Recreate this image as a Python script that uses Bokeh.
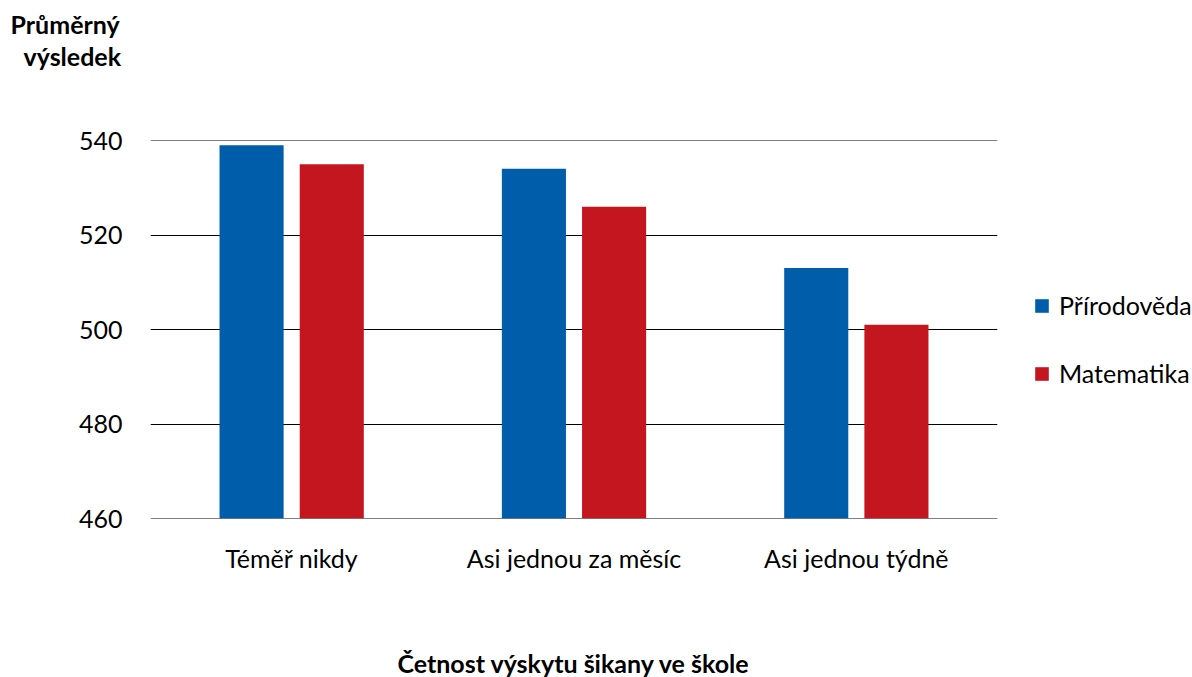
from bokeh.plotting import figure
from bokeh.models import Range1d, FactorRange, Legend, LegendItem, Title, ColumnDataSource
from bokeh.transform import dodge
from bokeh.embed import file_html
from bokeh.resources import INLINE

categories = ["Téměř nikdy", "Asi jednou za měsíc", "Asi jednou týdně"]
prirodoveda = [539, 534, 513]
matematika = [535, 526, 501]
series_names = ["Přírodověda", "Matematika"]
y_ticks = [460, 480, 500, 520, 540]
y_title = ["Průměrný", "výsledek"]
x_title = "Četnost výskytu šikany ve škole"

FONT = "Lato"
FS = "25px"
BLUE = "#005DAA"
RED = "#C4161F"

src = ColumnDataSource(dict(cat=categories, p=prirodoveda, m=matematika))

p = figure(x_range=FactorRange(*categories), y_range=Range1d(460, 540),
           frame_width=847, frame_height=378, title=None,
           min_border_left=150, min_border_top=140, min_border_right=187, min_border_bottom=159,
           output_backend="svg", toolbar_location=None)
p.outline_line_color = None

p.hspan(y=y_ticks, line_color="black", line_width=1)

r1 = p.vbar(x=dodge("cat", -0.142, range=p.x_range), top="p", bottom=460, width=0.227,
            source=src, fill_color=BLUE, line_color=None)
r2 = p.vbar(x=dodge("cat", 0.142, range=p.x_range), top="m", bottom=460, width=0.227,
            source=src, fill_color=RED, line_color=None)

p.xgrid.grid_line_color = None
p.ygrid.grid_line_color = None
p.yaxis.ticker = y_ticks
p.yaxis.axis_line_color = None
p.yaxis.major_tick_line_color = None
p.yaxis.minor_tick_line_color = None
p.yaxis.major_label_standoff = 22
p.yaxis.major_label_text_font = FONT
p.yaxis.major_label_text_font_size = FS
p.yaxis.major_label_text_color = "black"

p.xaxis.axis_line_color = None
p.xaxis.major_tick_line_color = None
p.xaxis.major_label_standoff = 18
p.xaxis.major_label_text_font = FONT
p.xaxis.major_label_text_font_size = FS
p.xaxis.major_label_text_color = "black"
p.xaxis.axis_label = x_title
p.xaxis.axis_label_text_font = FONT
p.xaxis.axis_label_text_font_style = "bold"
p.xaxis.axis_label_text_font_size = FS
p.xaxis.axis_label_text_color = "black"
p.xaxis.axis_label_standoff = 72

legend = Legend(items=[LegendItem(label=series_names[0], renderers=[r1]),
                       LegendItem(label=series_names[1], renderers=[r2])],
                location=(36, 130), orientation="vertical",
                glyph_width=17, glyph_height=17, label_height=20, spacing=38,
                label_standoff=9, padding=0, margin=0,
                border_line_color=None, background_fill_alpha=0,
                label_text_font=FONT, label_text_font_size=FS, label_text_color="black")
p.add_layout(legend, "right")

# spacer between frame and the y-axis title lines
p.add_layout(Title(text=" ", standoff=38, text_font=FONT, text_font_size=FS), "above")
# y-axis title, two right-aligned lines placed above-left of the frame
p.add_layout(Title(text=y_title[1], align="left", offset=-127, standoff=0,
                   vertical_align="bottom", text_font=FONT, text_font_style="bold",
                   text_font_size=FS, text_color="black"), "above")
p.add_layout(Title(text=y_title[0], align="left", offset=-140, standoff=0,
                   vertical_align="bottom", text_font=FONT, text_font_style="bold",
                   text_font_size=FS, text_color="black"), "above")

open("out.html", "w").write(file_html(p, INLINE))
